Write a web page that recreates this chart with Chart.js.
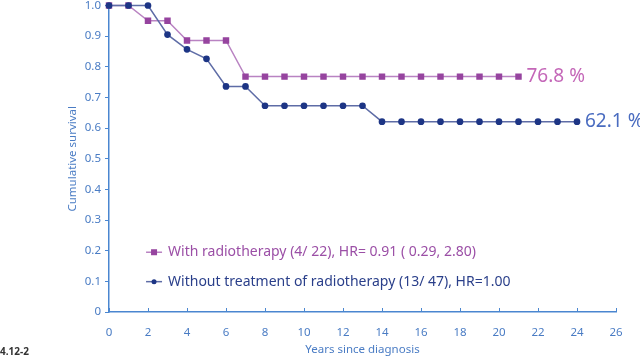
<!DOCTYPE html>
<html>
<head>
<meta charset="utf-8">
<script src="https://cdn.jsdelivr.net/npm/chart.js@4/dist/chart.umd.min.js"></script>
<style>
  html, body { margin: 0; padding: 0; background: #fff; }
  #wrap { position: relative; width: 640px; height: 361px; }
  #fig-no { position: absolute; left: 0; top: 344px; font: bold 10px "Noto Sans", sans-serif; color: #333; }
</style>
</head>
<body>
<div id="wrap">
  <canvas id="km" width="640" height="361"></canvas>
  <div id="fig-no">4.12-2</div>
</div>
<script>
// ── Data ──
const yearsWith    = [0, 1, 2, 3, 4, 5, 6, 7, 8, 9, 10, 11, 12, 13, 14, 15, 16, 17, 18, 19, 20, 21];
const survivalWith = [1.0, 1.0, 0.95, 0.95, 0.886, 0.886, 0.886, 0.768, 0.768, 0.768, 0.768, 0.768,
                      0.768, 0.768, 0.768, 0.768, 0.768, 0.768, 0.768, 0.768, 0.768, 0.768];
const yearsWithout    = [0, 1, 2, 3, 4, 5, 6, 7, 8, 9, 10, 11, 12, 13, 14, 15, 16, 17, 18, 19, 20, 21, 22, 23, 24];
const survivalWithout = [1.0, 1.0, 1.0, 0.905, 0.857, 0.826, 0.736, 0.736, 0.673, 0.673, 0.673, 0.673,
                         0.673, 0.673, 0.621, 0.621, 0.621, 0.621, 0.621, 0.621, 0.621, 0.621, 0.621, 0.621, 0.621];
const seriesNames = [
  'With radiotherapy (4/ 22), HR= 0.91 ( 0.29, 2.80)',
  'Without treatment of radiotherapy (13/ 47), HR=1.00'
];
const endLabels = ['76.8 %', '62.1 %'];
const xTicks = [0, 2, 4, 6, 8, 10, 12, 14, 16, 18, 20, 22, 24, 26];

const AXIS = '#4a86d0';
const TICK = '#4a7cc4';
const FONT = '"Noto Sans", sans-serif';

const colors = [
  { line: '#b983c2', point: '#96449f', label: '#c467b8', legend: '#9b4fa6' },
  { line: '#5e6ca6', point: '#1d3585', label: '#4a6cc0', legend: '#2a3f8a' },
];

// ── Plugins ──
const annotate = {
  id: 'annotate',
  afterDraw(chart) {
    const { ctx, scales: { x, y } } = chart;
    ctx.save();
    // x ticks pointing into the plot
    ctx.strokeStyle = AXIS;
    ctx.lineWidth = 1;
    xTicks.forEach(v => {
      const px = Math.round(x.getPixelForValue(v)) + 0.5;
      ctx.beginPath();
      ctx.moveTo(px, y.bottom);
      ctx.lineTo(px, y.bottom - 4);
      ctx.stroke();
    });
    // end-of-curve labels
    ctx.font = '19px ' + FONT;
    ctx.textBaseline = 'middle';
    chart.data.datasets.forEach((ds, i) => {
      const last = ds.data[ds.data.length - 1];
      ctx.fillStyle = colors[i].label;
      ctx.fillText(endLabels[i], x.getPixelForValue(last.x) + 8, y.getPixelForValue(last.y));
    });
    // legend inside plot
    ctx.font = '14px ' + FONT;
    const lx = x.getPixelForValue(1.9);
    [0.195, 0.099].forEach((yv, i) => {
      const py = y.getPixelForValue(yv);
      ctx.strokeStyle = colors[i].line;
      ctx.lineWidth = 1.5;
      ctx.beginPath();
      ctx.moveTo(lx, py);
      ctx.lineTo(lx + 16, py);
      ctx.stroke();
      ctx.fillStyle = colors[i].point;
      if (i === 0) ctx.fillRect(lx + 5, py - 3, 6, 6);
      else { ctx.beginPath(); ctx.arc(lx + 8, py, 2.5, 0, Math.PI * 2); ctx.fill(); }
      ctx.fillStyle = colors[i].legend;
      ctx.fillText(seriesNames[i], lx + 22, py);
    });
    ctx.restore();
  }
};

// ── Chart ──
new Chart(document.getElementById('km'), {
  type: 'line',
  data: {
    datasets: [
      {
        label: seriesNames[0],
        data: yearsWith.map((v, i) => ({ x: v, y: survivalWith[i] })),
        borderColor: colors[0].line,
        borderWidth: 1.5,
        pointStyle: 'rect',
        pointRadius: 3.5,
        pointBackgroundColor: colors[0].point,
        pointBorderColor: colors[0].point,
        tension: 0,
        order: 2,
        clip: false,
      },
      {
        label: seriesNames[1],
        data: yearsWithout.map((v, i) => ({ x: v, y: survivalWithout[i] })),
        borderColor: colors[1].line,
        borderWidth: 1.5,
        pointStyle: 'circle',
        pointRadius: 2.6,
        pointBackgroundColor: colors[1].point,
        pointBorderColor: colors[1].point,
        tension: 0,
        order: 1,
        clip: false,
      }
    ]
  },
  options: {
    responsive: false,
    animation: false,
    layout: { padding: { top: 0, right: 24, left: 62, bottom: 0 } },
    plugins: { legend: { display: false }, tooltip: { enabled: false } },
    scales: {
      x: {
        type: 'linear',
        min: 0, max: 26,
        afterBuildTicks: s => { s.ticks = xTicks.map(v => ({ value: v })); },
        afterFit: s => { s.height = 49; },
        ticks: { color: TICK, font: { family: FONT, size: 11.5 }, padding: 6 },
        grid: { display: false },
        border: { color: AXIS, width: 1.5 },
        title: { display: true, text: 'Years since diagnosis', color: TICK,
                 font: { family: FONT, size: 11.5 }, padding: { top: 3 } },
      },
      y: {
        min: 0, max: 1,
        afterFit: s => { s.width = 47; s.paddingTop = 5; s.paddingBottom = 0; },
        ticks: { stepSize: 0.1, color: TICK, font: { family: FONT, size: 11.5 }, padding: 4,
                 callback: v => v === 0 ? '0' : v.toFixed(1) },
        grid: { drawOnChartArea: false, tickLength: 4, color: AXIS },
        border: { color: AXIS, width: 1.5 },
        title: { display: true, text: 'Cumulative survival', color: TICK,
                 font: { family: FONT, size: 11.5 }, padding: { bottom: 0 } },
      }
    }
  },
  plugins: [annotate]
});
</script>
</body>
</html>
